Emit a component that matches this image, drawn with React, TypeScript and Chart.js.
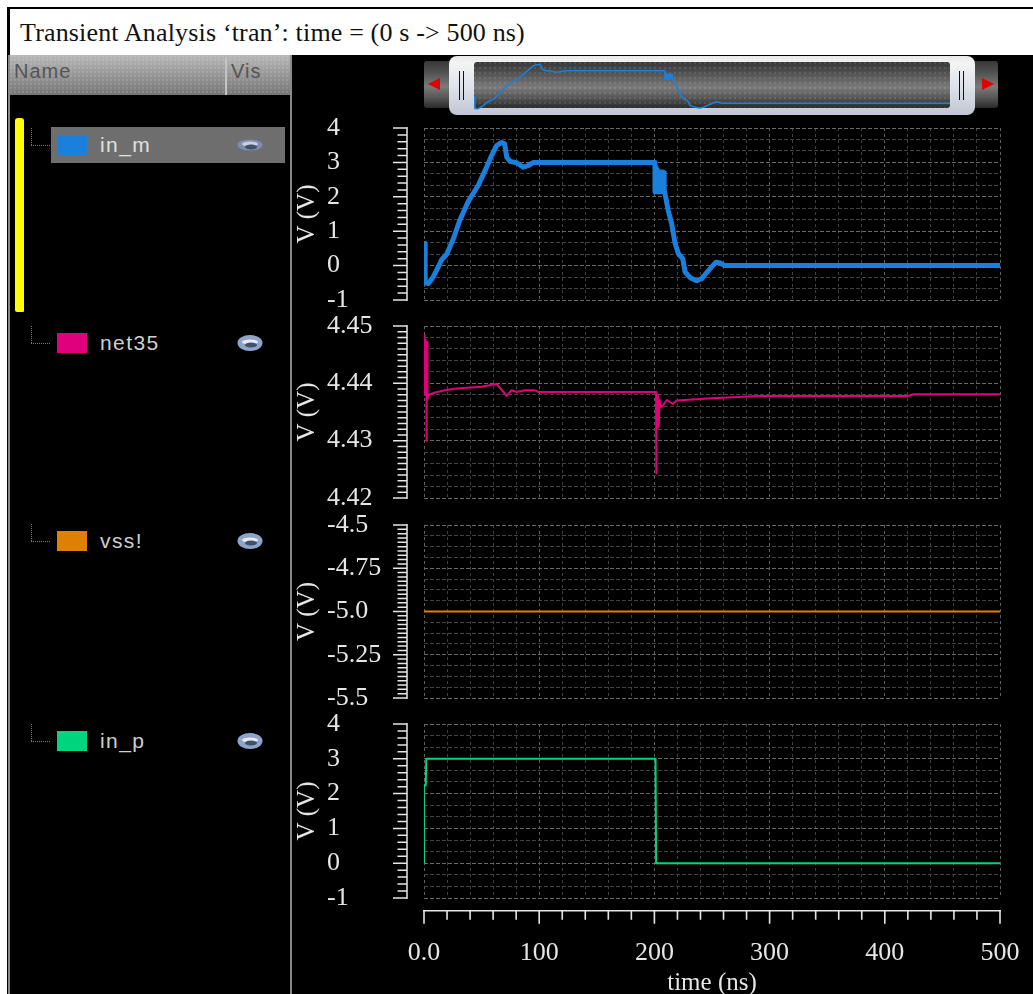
import React, { useEffect, useRef } from "react";
import { Chart, registerables } from "chart.js";

Chart.register(...registerables);

const titleText = "Transient Analysis \u2018tran\u2019: time = (0 s -> 500 ns)";
const signalNames = ["in_m", "net35", "vss!", "in_p"];
const signalColors = ["#1a80dc", "#e0007c", "#e08000", "#00d47c"];
const rowTops = [135, 333, 531, 731];

const xMin = 0;
const xMax = 500;
const xLabelValues = [0, 100, 200, 300, 400, 500];
const xLabelTexts = ["0.0", "100", "200", "300", "400", "500"];

const inMTimes = [0, 1, 1, 3.8, 8, 12.4, 15.3, 19.7, 25.5, 31, 38.5, 47, 53, 58.7, 63, 67.4, 70, 71.8, 74.7, 80.4, 86.2, 90.6, 95, 199, 200.5, 200.5, 201.5, 201.5, 202.5, 202.5, 203.5, 203.5, 204.5, 204.5, 205.5, 205.5, 206.5, 206.5, 207.5, 207.5, 208.5, 208.5, 209.5, 212, 215, 218, 220.8, 224.6, 226.6, 231, 236.7, 241, 247, 253.5, 257, 261, 500];
const inMValues = [0.64, 0.64, -0.5, -0.52, -0.33, -0.04, 0.17, 0.33, 0.78, 1.31, 1.87, 2.33, 2.76, 3.2, 3.49, 3.58, 3.54, 3.15, 3.03, 2.99, 2.86, 2.91, 3, 3, 3, 2.15, 2.85, 2.15, 2.78, 2.15, 2.72, 2.15, 2.72, 2.15, 2.72, 2.15, 2.72, 2.2, 2.72, 2.2, 2.7, 2.2, 2.04, 1.6, 1.22, 0.64, 0.35, 0.2, -0.18, -0.35, -0.44, -0.38, -0.14, 0.1, 0.08, 0, 0];

const net35Times = [0, 0.5, 1, 1.5, 2, 2.2, 2.2, 2.5, 3, 3, 3.8, 8, 18, 28, 50, 63, 71.8, 76, 80.4, 87.7, 96, 99, 201.4, 201.4, 202, 202.5, 203, 203.8, 204.4, 205.4, 207, 210.8, 216, 219.3, 250, 290, 420, 425, 500];
const net35Values = [4.4484, 4.438, 4.4475, 4.438, 4.4472, 4.438, 4.43, 4.4472, 4.4472, 4.4372, 4.438, 4.4383, 4.4388, 4.4391, 4.4394, 4.4399, 4.4378, 4.4388, 4.4385, 4.4388, 4.4388, 4.4385, 4.4385, 4.4243, 4.438, 4.4322, 4.438, 4.4325, 4.4372, 4.4359, 4.436, 4.4371, 4.4364, 4.437, 4.4374, 4.4378, 4.4378, 4.4381, 4.4381];

const vssTimes = [0, 500];
const vssValues = [-5, -5];

const inPTimes = [0, 0, 1.5, 2, 201, 201.5, 500];
const inPValues = [0, 2.23, 2.23, 3, 3, 0, 0];

const panel1Labels = ["4", "3", "2", "1", "0", "-1"];
const panel1LabelValues = [4, 3, 2, 1, 0, -1];
const panel2Labels = ["4.45", "4.44", "4.43", "4.42"];
const panel2LabelValues = [4.45, 4.44, 4.43, 4.42];
const panel3Labels = ["-4.5", "-4.75", "-5.0", "-5.25", "-5.5"];
const panel3LabelValues = [-4.5, -4.75, -5, -5.25, -5.5];
const panel4Labels = ["4", "3", "2", "1", "0", "-1"];
const panel4LabelValues = [4, 3, 2, 1, 0, -1];

const near = (a: number, b: number, span: number) => Math.abs(a - b) < span * 1e-4;
const steps = (from: number, to: number, n: number) => {
  const out: number[] = [];
  for (let i = 0; i <= n; i++) out.push(from + ((to - from) * i) / n);
  return out;
};

const PLOT_LEFT = 424;
const PLOT_RIGHT = 1000;
const CANVAS_LEFT = 291;
const SERIF = "'Liberation Serif', serif";
const SANS = "'Liberation Sans', sans-serif";
const INK = "#e6e6e6";

type Panel = {
  times: number[]; values: number[]; color: string; width: number;
  min: number; max: number; top: number; bottom: number;
  labels: string[]; labelValues: number[]; rulerCount: number; gridCount: number; xAxis: boolean;
};

const panels: Panel[] = [
  { times: inMTimes, values: inMValues, color: signalColors[0], width: 5, min: -1, max: 4, top: 128, bottom: 300, labels: panel1Labels, labelValues: panel1LabelValues, rulerCount: 25, gridCount: 15, xAxis: false },
  { times: net35Times, values: net35Values, color: signalColors[1], width: 2, min: 4.42, max: 4.45, top: 326, bottom: 498, labels: panel2Labels, labelValues: panel2LabelValues, rulerCount: 30, gridCount: 15, xAxis: false },
  { times: vssTimes, values: vssValues, color: signalColors[2], width: 2, min: -5.5, max: -4.5, top: 525, bottom: 698, labels: panel3Labels, labelValues: panel3LabelValues, rulerCount: 40, gridCount: 16, xAxis: false },
  { times: inPTimes, values: inPValues, color: signalColors[3], width: 2, min: -1, max: 4, top: 724, bottom: 898, labels: panel4Labels, labelValues: panel4LabelValues, rulerCount: 25, gridCount: 15, xAxis: true },
];

const rulerPlugin = {
  id: "ruler",
  afterDraw(chart: any, _a: any, opts: any) {
    const ctx = chart.ctx;
    const y = chart.scales.y;
    const off = -CANVAS_LEFT;
    ctx.save();
    ctx.strokeStyle = INK;
    ctx.lineWidth = 1.5;
    ctx.beginPath();
    ctx.moveTo(407 + off, y.getPixelForValue(y.max) - 1);
    ctx.lineTo(407 + off, y.getPixelForValue(y.min) + 1);
    y.ticks.forEach((t: any) => {
      const p = y.getPixelForValue(t.value);
      ctx.moveTo(407 + off, p);
      ctx.lineTo((t.label ? 393 : 397.5) + off, p);
    });
    ctx.stroke();
    if (opts.xAxis) {
      const x = chart.scales.x;
      const base = y.getPixelForValue(y.min) + 12.7;
      ctx.lineWidth = 1.6;
      ctx.beginPath();
      ctx.moveTo(x.getPixelForValue(x.min) - 1, base);
      ctx.lineTo(x.getPixelForValue(x.max) + 1, base);
      x.ticks.forEach((t: any) => {
        const p = x.getPixelForValue(t.value);
        ctx.moveTo(p, base);
        ctx.lineTo(p, base + (t.label ? 13 : 9));
      });
      ctx.stroke();
    }
    ctx.restore();
  },
};

function makePanel(canvas: HTMLCanvasElement, p: Panel) {
  const span = p.max - p.min;
  const rulerTicks = steps(p.min, p.max, p.rulerCount);
  const gridTicks = steps(p.min, p.max, p.gridCount);
  const xTicks = steps(xMin, xMax, 25);
  const label = (v: number) => {
    const i = p.labelValues.findIndex((l) => near(l, v, span));
    return i >= 0 ? p.labels[i] : "";
  };
  const isMajor = (v: number) => p.labelValues.some((l) => near(l, v, span));
  const axisHeight = p.xAxis ? 994 - p.bottom : 0;
  return new Chart(canvas, {
    type: "line",
    data: {
      datasets: [{
        data: p.times.map((t, i) => ({ x: t, y: p.values[i] })),
        borderColor: p.color,
        borderWidth: p.width,
        pointRadius: 0,
        tension: 0,
        borderJoinStyle: "round",
        borderCapStyle: "round",
        yAxisID: "y",
        xAxisID: "x",
      }],
    },
    options: {
      animation: false,
      responsive: false,
      events: [],
      layout: {
        autoPadding: false,
        padding: { left: 0, right: 1033 - PLOT_RIGHT, top: 16, bottom: p.xAxis ? 0 : 16 },
      },
      plugins: { legend: { display: false }, tooltip: { enabled: false }, ruler: { xAxis: p.xAxis } },
      scales: {
        x: {
          type: "linear",
          min: xMin,
          max: xMax,
          afterBuildTicks: (a: any) => { a.ticks = xTicks.map((value) => ({ value })); },
          beforeFit: (a: any) => { a._calculatePadding = () => {}; },
          afterFit: (a: any) => { a.height = axisHeight; },
          border: { display: false, dash: [3, 3] },
          grid: {
            drawTicks: false,
            lineWidth: 1,
            color: (c: any) => (xLabelValues.includes(Math.round(c.tick.value)) ? "#606060" : "#404040"),
          },
          ticks: {
            display: p.xAxis,
            autoSkip: false,
            maxRotation: 0,
            padding: 40,
            color: INK,
            font: { family: SERIF, size: 26 },
            callback: (v: any) => {
              const i = xLabelValues.indexOf(Math.round(Number(v)));
              return i >= 0 ? xLabelTexts[i] : "";
            },
          },
          title: {
            display: p.xAxis,
            text: "time (ns)",
            color: INK,
            font: { family: SERIF, size: 25, lineHeight: 0.85 },
            padding: { top: 0, bottom: 0 },
          },
        },
        y: {
          type: "linear",
          position: "left",
          min: p.min,
          max: p.max,
          afterBuildTicks: (a: any) => { a.ticks = rulerTicks.map((value) => ({ value })); },
          afterFit: (a: any) => { a.width = PLOT_LEFT - CANVAS_LEFT; },
          border: { display: false },
          grid: { display: false },
          ticks: {
            autoSkip: false,
            mirror: true,
            padding: 327 - PLOT_LEFT,
            color: INK,
            font: { family: SERIF, size: 26 },
            callback: (v: any) => label(Number(v)),
          },
          title: {
            display: true,
            text: "V (V)",
            color: INK,
            font: { family: SERIF, size: 25 },
            padding: { top: 1, bottom: 0 },
          },
        },
        yg: {
          type: "linear",
          position: "left",
          min: p.min,
          max: p.max,
          afterBuildTicks: (a: any) => { a.ticks = gridTicks.map((value) => ({ value })); },
          afterFit: (a: any) => { a.width = 0; },
          border: { display: false, dash: [4, 2] },
          grid: {
            drawTicks: false,
            lineWidth: 1,
            color: (c: any) => (isMajor(c.tick.value) ? "#686868" : "#424242"),
          },
          ticks: { display: false, autoSkip: false },
        },
      },
    },
    plugins: [rulerPlugin],
  } as any);
}

function makeOverview(canvas: HTMLCanvasElement) {
  return new Chart(canvas, {
    type: "line",
    data: {
      datasets: [{
        data: inMTimes.map((t, i) => ({ x: t, y: inMValues[i] })),
        borderColor: signalColors[0],
        borderWidth: 1.5,
        pointRadius: 0,
        tension: 0,
      }],
    },
    options: {
      animation: false,
      responsive: false,
      events: [],
      layout: { autoPadding: false, padding: 0 },
      plugins: { legend: { display: false }, tooltip: { enabled: false } },
      scales: {
        x: { type: "linear", min: xMin, max: xMax, display: false },
        y: { type: "linear", min: -1, max: 4, display: false },
      },
    },
  } as any);
}

const abs = (left: number, top: number, width: number, height: number): React.CSSProperties => ({
  position: "absolute", left, top, width, height,
});

const TRACK = "linear-gradient(to bottom,#383838 0%,#4c4c4c 20%,#7a7a7a 55%,#565656 78%,#2a2a2a 100%)";
const DOTS = "radial-gradient(circle at 1px 1px,rgba(255,255,255,.10) 1px,transparent 1.2px)";

function Eye({ top, dim }: { top: number; dim: boolean }) {
  return (
    <svg style={{ ...abs(236, top + 1, 28, 18), overflow: "visible" }} viewBox="0 0 28 18">
      <ellipse cx="14" cy="9" rx="12.5" ry={dim ? 5.5 : 8} fill={dim ? "#7f8db0" : "#8ea4c8"} />
      <ellipse cx="14" cy="8" rx="8" ry="2.6" fill={dim ? "#c9cfdc" : "#e6ebf3"} />
      <ellipse cx="15" cy="11" rx="6" ry="2.4" fill="#41506c" />
    </svg>
  );
}

export default function App() {
  const refs = useRef<(HTMLCanvasElement | null)[]>([]);
  const overview = useRef<HTMLCanvasElement | null>(null);

  useEffect(() => {
    document.body.style.margin = "0";
    const charts = panels.map((p, i) => makePanel(refs.current[i]!, p));
    charts.push(makeOverview(overview.current!));
    return () => charts.forEach((c) => c.destroy());
  }, []);

  return (
    <div style={{ ...abs(0, 0, 1033, 994), background: "#fff", overflow: "hidden" }}>
      <div style={{ ...abs(7, 7, 1026, 987), background: "#000" }} />
      <div style={{ ...abs(8, 55, 1.5, 939), background: "#888" }} />
      <div
        style={{
          ...abs(10, 9, 1023, 46), background: "#fff", color: "#111",
          font: `26px ${SERIF}`, lineHeight: "47px", letterSpacing: 0.16, paddingLeft: 10, boxSizing: "border-box", whiteSpace: "pre",
        }}
      >
        {titleText}
      </div>

      <div style={{ ...abs(10, 55, 280, 40), background: `${DOTS},linear-gradient(to bottom,#b8b8b8,#8a8a8a 70%,#777)`, backgroundSize: "4px 4px,auto" }} />
      <div style={{ ...abs(14, 56, 120, 30), color: "#555", font: `20px ${SANS}`, lineHeight: "30px", letterSpacing: 1 }}>Name</div>
      <div style={{ ...abs(225, 58, 1.5, 37), background: "#c4c4c4" }} />
      <div style={{ ...abs(231, 56, 50, 30), color: "#555", font: `20px ${SANS}`, lineHeight: "30px", letterSpacing: 1 }}>Vis</div>
      <div style={{ ...abs(290, 55, 1.5, 939), background: "#8a8a8a" }} />

      <div style={{ ...abs(14.5, 118, 9, 194), background: "#ffff00", borderRadius: "3px 3px 1px 2px" }} />
      <div style={{ ...abs(51, 127, 234, 36), background: "#6e6e6e" }} />

      {signalNames.map((name, i) => (
        <React.Fragment key={name}>
          <div style={{ ...abs(31, rowTops[i] - 7, 1, 17), borderLeft: "1px dotted #777", boxSizing: "border-box" }} />
          <div style={{ ...abs(31, rowTops[i] + 10, 19, 1), borderTop: "1px dotted #777", boxSizing: "border-box" }} />
          <div style={{ ...abs(57, rowTops[i], 30, 20), background: signalColors[i] }} />
          <div style={{ ...abs(100, rowTops[i] - 5, 120, 30), color: i === 0 ? "#e0e0e0" : "#cfcfcf", font: `21px ${SANS}`, lineHeight: "30px", letterSpacing: 1.4 }}>
            {name}
          </div>
          <Eye top={rowTops[i]} dim={i === 0} />
        </React.Fragment>
      ))}

      <div style={{ ...abs(424, 61, 30, 47), background: TRACK, borderRadius: "3px 0 0 3px" }} />
      <div style={{ ...abs(970, 61, 28, 47), background: TRACK, borderRadius: "0 3px 3px 0" }} />
      <svg style={abs(426, 76, 18, 16)} viewBox="0 0 18 16"><polygon points="2,8 14,2 14,14" fill="#e00000" /></svg>
      <svg style={abs(978, 76, 18, 16)} viewBox="0 0 18 16"><polygon points="16,8 4,2 4,14" fill="#e00000" /></svg>
      <div style={{ ...abs(449, 56, 526, 59), background: "linear-gradient(to bottom,#e8e8e8,#f4f4f4 12%,#dfe3ea 50%,#c2c6d2 100%)", borderRadius: 8 }} />
      <div style={{ ...abs(474, 62, 476, 46), background: `${DOTS},${TRACK}`, backgroundSize: "5px 5px,auto", borderRadius: 3 }} />
      <div style={{ ...abs(458.5, 71, 1.6, 29), background: "#111" }} />
      <div style={{ ...abs(462.5, 71, 1.6, 29), background: "#111" }} />
      <div style={{ ...abs(958.5, 71, 1.6, 29), background: "#111" }} />
      <div style={{ ...abs(962.5, 71, 1.6, 29), background: "#111" }} />
      <canvas ref={overview} width={476} height={54} style={abs(474, 60, 476, 54)} />

      {panels.map((p, i) => {
        const top = p.top - 16;
        const height = p.xAxis ? 994 - top : p.bottom - p.top + 32;
        return (
          <canvas
            key={i}
            ref={(el) => { refs.current[i] = el; }}
            width={1033 - CANVAS_LEFT}
            height={height}
            style={abs(CANVAS_LEFT, top, 1033 - CANVAS_LEFT, height)}
          />
        );
      })}
    </div>
  );
}
